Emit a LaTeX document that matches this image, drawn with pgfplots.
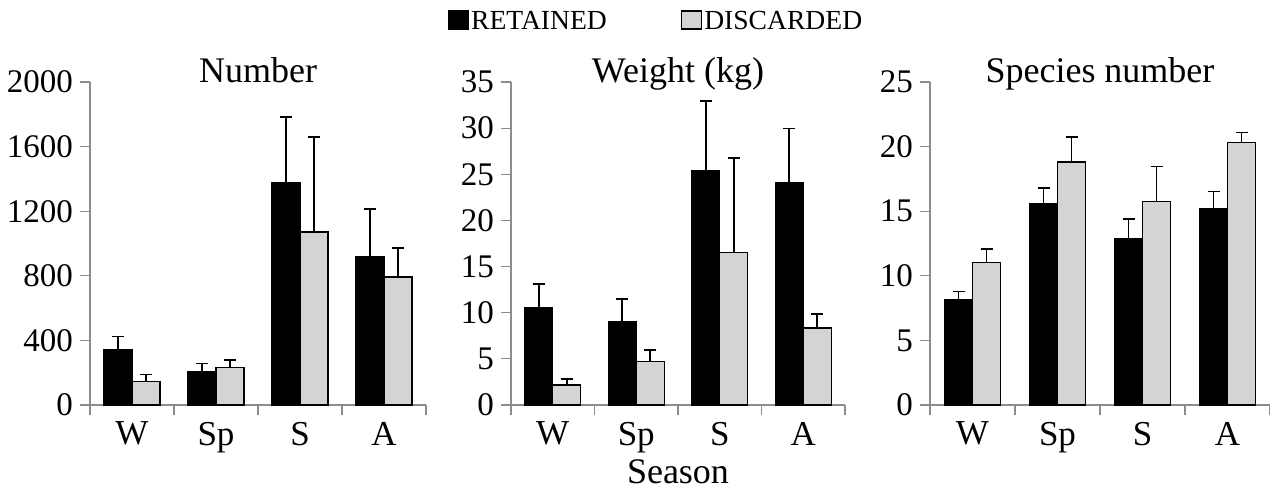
\documentclass[border=0pt]{standalone}
\usepackage{pgfplots}
\pgfplotsset{compat=1.18}
\usepackage{fontspec}
\setmainfont{Liberation Serif}
\definecolor{discgray}{RGB}{212,212,212}
\definecolor{axgray}{RGB}{140,140,140}
\pgfplotsset{
  panel/.style={
    scale only axis,
    height=161.5pt,
    ymin=0,
    xmin=-0.5, xmax=3.5,
    axis lines*=left,
    axis line style={axgray, line width=0.6pt},
    ybar=0pt, bar width=14pt,
    /pgf/number format/assume math mode=true,
    /pgf/number format/1000 sep={},
    scaled y ticks=false,
    tick align=outside,
    major tick length=5pt,
    tick style={axgray, line width=0.6pt},
    yticklabel style={font=\fontsize{16.5pt}{19pt}\selectfont},
    xticklabel style={font=\fontsize{17.5pt}{20pt}\selectfont},
    xtick={-0.5,0.5,1.5,2.5,3.5},
    xticklabels={W,Sp,S,A},
    x tick label as interval=true,
    title style={at={(0.5,1)}, anchor=base, yshift=-6pt, font=\fontsize{18pt}{21pt}\selectfont},
    error bars/y dir=plus,
    error bars/y explicit,
    error bars/error bar style={black, line width=0.8pt},
    error bars/error mark options={black, mark size=3pt, line width=0.8pt, rotate=90},
  },
  ret/.style={fill=black, draw=black, line width=0.7pt,
    legend image code/.code={\draw[##1] (0pt,-3.5pt) rectangle (10pt,5.5pt);}},
  dis/.style={fill=discgray, draw=black, line width=0.7pt,
    legend image code/.code={\draw[##1] (0pt,-3.5pt) rectangle (10pt,5.5pt);}},
}
\begin{document}
\begin{tikzpicture}
\useasboundingbox (0,0) rectangle (635pt,244pt);
% Panel 1: Number
\begin{axis}[panel, at={(45pt,41.5pt)}, anchor=south west, width=168pt,
  ymax=2000, ytick={0,400,800,1200,1600,2000}, title={Number}]
\addplot[ret] coordinates {(0,345) +- (0,79) (1,209) +- (0,49) (2,1378) +- (0,405) (3,919) +- (0,296)};
\addplot[dis] coordinates {(0,145) +- (0,43) (1,233) +- (0,46) (2,1070) +- (0,589) (3,793) +- (0,178)};
\end{axis}
% Panel 2: Weight
\begin{axis}[panel, at={(255.5pt,41.5pt)}, anchor=south west, width=167pt,
  ymax=35, ytick={0,5,...,35}, title={Weight (kg)},
  xlabel={Season},
  xlabel style={at={(axis description cs:0.5,0)}, anchor=base, yshift=-39pt,
    font=\fontsize{18pt}{21pt}\selectfont},
  legend columns=2,
  legend style={at={(0.434,1.186)}, anchor=center, draw=none, fill=none,
    font=\fontsize{13.8pt}{16pt}\selectfont, inner sep=0pt,
    nodes={inner xsep=1pt},
    /tikz/every even column/.append style={column sep=36pt}},
  legend cell align=left]
\addplot[ret] coordinates {(0,10.56) +- (0,2.53) (1,9.0) +- (0,2.5) (2,25.38) +- (0,7.56) (3,24.12) +- (0,5.85)};
\addplot[dis] coordinates {(0,2.17) +- (0,0.65) (1,4.7) +- (0,1.27) (2,16.52) +- (0,10.24) (3,8.35) +- (0,1.52)};
\legend{RETAINED, DISCARDED}
\end{axis}
% Panel 3: Species number
\begin{axis}[panel, at={(465pt,41.5pt)}, anchor=south west, width=170pt,
  ymax=25, ytick={0,5,...,25}, title={Species number}]
\addplot[ret] coordinates {(0,8.14) +- (0,0.64) (1,15.57) +- (0,1.22) (2,12.86) +- (0,1.52) (3,15.21) +- (0,1.32)};
\addplot[dis] coordinates {(0,11.05) +- (0,1.01) (1,18.80) +- (0,1.94) (2,15.75) +- (0,2.72) (3,20.30) +- (0,0.80)};
\end{axis}
\end{tikzpicture}
\end{document}
